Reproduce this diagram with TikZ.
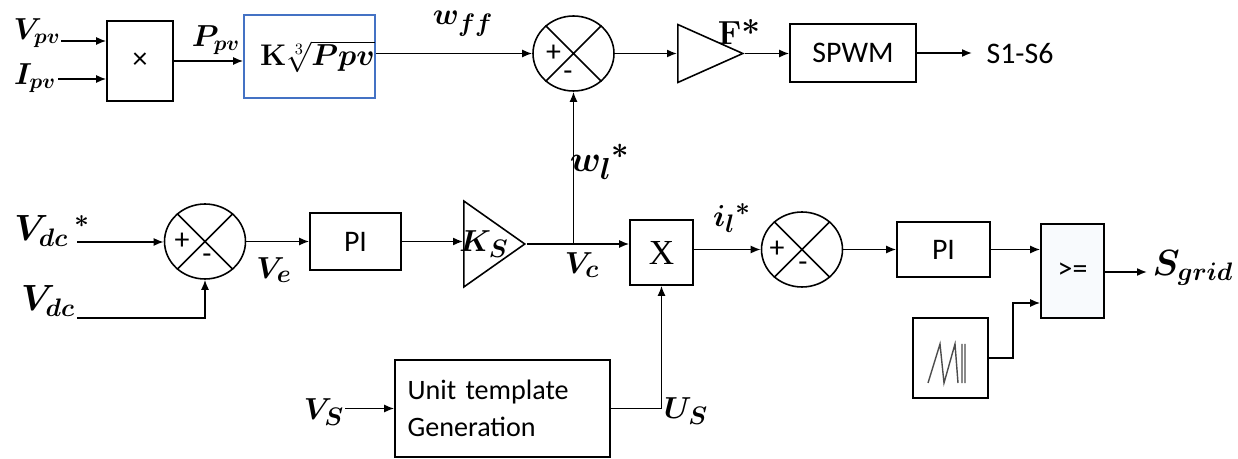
\documentclass[tikz,border=0pt]{standalone}
\usepackage{fontspec}
\usepackage{amsmath}
\usetikzlibrary{positioning, arrows.meta, shapes.geometric}
\newfontfamily\calibri{Carlito}
\newfontfamily\serifx{Liberation Serif}
\definecolor{rootblue}{RGB}{68,114,196}
\definecolor{cmpfill}{RGB}{248,250,253}
\DeclareMathSizes{16}{16}{12}{9}
\DeclareMathSizes{17}{17}{12.5}{9.5}
\DeclareMathSizes{18}{18}{13.5}{10}
\DeclareMathSizes{19}{19}{14}{10.5}
\DeclareMathSizes{20}{20}{15}{11}
\DeclareMathSizes{22}{22}{16}{12}

\begin{document}
\begin{tikzpicture}[
  x=0.02cm, y=-0.02cm,
  blk/.style={
    draw,
    line width=0.9pt,
    inner sep=0pt,
    align=center,
    font=\calibri\fontsize{17}{20}\selectfont
  },
  sumnode/.style={draw, ellipse, line width=0.9pt, inner sep=0pt,
    minimum width=1.62cm, minimum height=1.5cm},
  gain/.style={draw, isosceles triangle, isosceles triangle stretches,
    shape border rotate=0, line width=0.9pt, inner sep=0pt, anchor=west},
  pm/.style={inner sep=0pt, font=\calibri\fontsize{17}{20}\selectfont},
  smalllab/.style={inner sep=0pt, font=\fontsize{16}{18}\selectfont},
  biglab/.style={inner sep=0pt, font=\fontsize{19}{22}\selectfont},
  txt/.style={inner sep=0pt, font=\calibri\fontsize{17}{20}\selectfont},
  arr/.style={-{Latex[length=2mm, width=1.6mm]}, line width=0.9pt}
]
\useasboundingbox (0,0) rectangle (1238,459);

% top row
\node[blk, minimum width=1.32cm, minimum height=1.6cm] (mul) at (140,61) {×};
\node[blk, draw=rootblue, minimum width=2.62cm, minimum height=1.66cm,
  font=\fontsize{17}{20}\selectfont] (root) at (309.5,56.5)
  {\hspace*{0.32cm}\textbf{K}$\sqrt[3]{\boldsymbol{Ppv}}$};
\node[sumnode] (s1) at (573.5,53.5) {};
\node[gain, minimum height=1.3cm, minimum width=1.16cm] (gainf) at (677,53.5) {};
\node[blk, minimum width=2.52cm, minimum height=1.16cm] (spwm) at (853,53) {SPWM};
\node[txt] (s16) at (1020,54) {S1-S6};

\node[smalllab] (vpv) at (37,33) {$\boldsymbol{V_{pv}}$};
\node[smalllab] (ipv) at (35,78) {$\boldsymbol{I_{pv}}$};
\node[smalllab] (ppv) at (216,40) {$\boldsymbol{P_{pv}}$};
\node[smalllab, font=\fontsize{18}{20}\selectfont] (wff) at (463,24) {$\boldsymbol{w_{ff}}$};
\node[biglab] (fstar) at (739,32) {\textbf{F*}};

% middle row
\node[sumnode] (s2) at (205,241.5) {};
\node[blk, minimum width=1.82cm, minimum height=1.14cm] (pi1) at (355.5,241.5) {PI};
\node[gain, minimum height=1.22cm, minimum width=1.72cm] (gaink) at (463,244) {};
\node[blk, minimum width=1.26cm, minimum height=1.3cm,
  font=\serifx\fontsize{20}{22}\selectfont] (xm) at (661.5,252.5) {X};
\node[sumnode] (s3) at (802,249.5) {};
\node[blk, minimum width=1.86cm, minimum height=1.1cm] (pi2) at (943.5,249.5) {PI};
\node[blk, fill=cmpfill, minimum width=1.26cm, minimum height=1.88cm] (cmp) at (1072.5,271) {>=};

\node[biglab, font=\fontsize{20}{22}\selectfont] (vdcs) at (52,231) {$\boldsymbol{V_{dc}}\,{}^{\boldsymbol{*}}$};
\node[biglab, font=\fontsize{20}{22}\selectfont] (vdc) at (48,301) {$\boldsymbol{V_{dc}}$};
\node[biglab] (ve) at (274,270) {$\boldsymbol{V_{e}}$};
\node[biglab] (ks) at (484,244) {$\boldsymbol{K_{S}}$};
\node[biglab] (vc) at (582,265) {$\boldsymbol{V_{c}}$};
\node[biglab, font=\fontsize{22}{24}\selectfont] (wl) at (600,162) {$\boldsymbol{w_{l}}{}^{\boldsymbol{*}}$};
\node[biglab] (il) at (732,218) {$\boldsymbol{i_{l}}{}^{\boldsymbol{*}}$};
\node[biglab, font=\fontsize{20}{22}\selectfont] (sgrid) at (1193,268) {$\boldsymbol{S_{grid}}$};

% bottom row
\node[blk, minimum width=4.3cm, minimum height=1.94cm, text width=3.8cm,
  inner xsep=0.25cm, align=left, font=\calibri\fontsize{16}{21}\selectfont]
  (unit) at (502.5,408.5) {Unit template\\Generation};
\node[blk, minimum width=1.5cm, minimum height=1.6cm] (saw) at (950.5,358) {};
\node[biglab, font=\fontsize{18}{20}\selectfont] (vs) at (324,412) {$\boldsymbol{V_{S}}$};
\node[biglab, font=\fontsize{18}{20}\selectfont] (us) at (686,411) {$\boldsymbol{U_{S}}$};

% summer crosses and signs
\foreach \s in {s1,s2,s3}
  \draw[line width=0.9pt] (\s.45) -- (\s.225) (\s.135) -- (\s.315);
\node[pm] (s1p) at ([xshift=-0.4cm]s1.center) {+};
\node[pm] (s1m) at ([xshift=-0.11cm, yshift=-0.45cm]s1.center) {-};
\node[pm] (s2p) at ([xshift=-0.46cm]s2.center) {+};
\node[pm] (s2m) at ([xshift=0.04cm, yshift=-0.35cm]s2.center) {-};
\node[pm] (s3p) at ([xshift=-0.5cm]s3.center) {+};
\node[pm] (s3m) at ([xshift=0.02cm, yshift=-0.35cm]s3.center) {-};

% sawtooth
\draw[line width=0.8pt, gray!60!black] (928,383) -- (940,344) -- (944,383) -- (955,344) -- (958,383)
  (962,344) -- (962,383) (965,344) -- (965,383);

% free ends
\coordinate (vpvin) at (61,41);
\coordinate (ipvin) at (58,79);
\coordinate (s16in) at (972,53);
\coordinate (vdcsin) at (77,242);
\coordinate (vdcin) at (77,318);
\coordinate (vsin) at (345,408.5);
\coordinate (sgridin) at (1147,272);
\coordinate (vcj) at (s1.south |- gaink.apex);
\coordinate (cmpin) at ([yshift=-0.64cm]cmp.west);
\coordinate (sawturn) at ([xshift=-0.54cm]cmpin);

\draw[arr] (vpvin) -- (vpvin -| mul.west);
\draw[arr] (ipvin) -- (ipvin -| mul.west);
\draw[arr] (mul.east) -- (mul.east -| root.west);
\draw[arr] (root.east |- s1.west) -- (s1.west);
\draw[arr] (s1.east) -- (gainf.west);
\draw[arr] (gainf.apex) -- (gainf.apex -| spwm.west);
\draw[arr] (spwm.east) -- (s16in);
\draw[arr] (vcj) -- (s1.south);

\draw[arr] (vdcsin) -- (vdcsin -| s2.west);
\draw[arr] (vdcin) -| (s2.south);
\draw[arr] (s2.east) -- (pi1.west);
\draw[arr] (pi1.east) -- (pi1.east -| gaink.west);
\draw[arr] (gaink.apex) -- (gaink.apex -| xm.west);
\draw[arr] (xm.east |- s3.west) -- (s3.west);
\draw[arr] (s3.east) -- (pi2.west);
\draw[arr] (pi2.east) -- (pi2.east -| cmp.west);
\draw[arr] (cmp.east |- sgridin) -- (sgridin);
\draw[arr] (saw.east) -| (sawturn) -- (cmpin);

\draw[arr] (vsin) -- (vsin -| unit.west);
\draw[arr] (unit.east) -| (xm.south);

\end{tikzpicture}
\end{document}
